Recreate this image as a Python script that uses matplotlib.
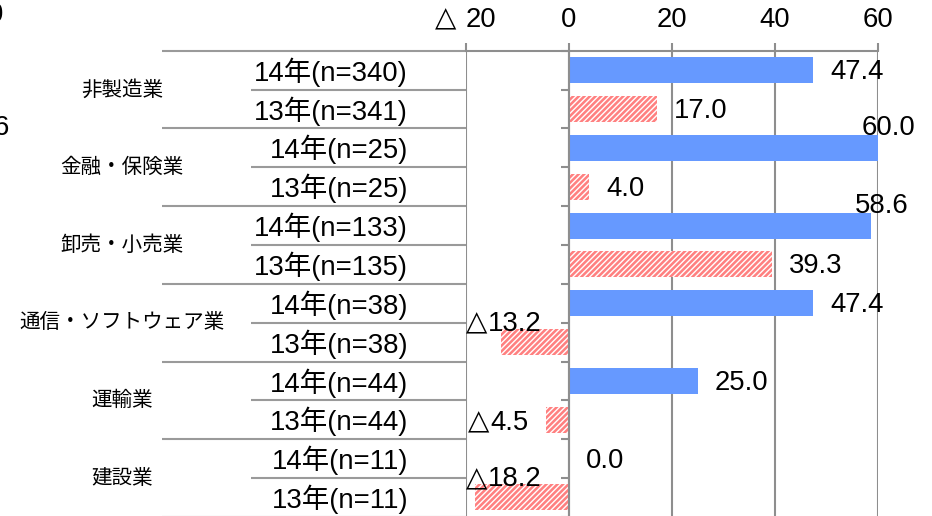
import matplotlib
matplotlib.use("Agg")
import matplotlib.pyplot as plt
import matplotlib.transforms as mtransforms
from matplotlib.offsetbox import TextArea, HPacker, AnnotationBbox
import numpy as np

plt.rcParams['font.family'] = ['Liberation Sans', 'Noto Sans CJK JP', 'DejaVu Sans']
plt.rcParams['hatch.linewidth'] = 1.0
plt.rcParams['hatch.color'] = 'white'

# Industries (top to bottom) and survey years per industry
industries = ["非製造業", "金融・保険業", "卸売・小売業", "通信・ソフトウェア業", "運輸業", "建設業"]
row_labels = [
    "14年(n=340)", "13年(n=341)",
    "14年(n=25)", "13年(n=25)",
    "14年(n=133)", "13年(n=135)",
    "14年(n=38)", "13年(n=38)",
    "14年(n=44)", "13年(n=44)",
    "14年(n=11)", "13年(n=11)",
]
values_14 = [47.4, 60.0, 58.6, 47.4, 25.0, 0.0]
values_13 = [17.0, 4.0, 39.3, -13.2, -4.5, -18.2]
x_ticks = [-20, 0, 20, 40, 60]
x_tick_labels = ["△ 20", "0", "20", "40", "60"]

W, H = 932, 516
fig = plt.figure(figsize=(W / 100, H / 100), dpi=100)

FS = 19.8          # numbers and row labels
TRI_FS = 20        # the triangle that marks negative numbers

top_px = 50.7
row_px = 38.85
n_rows = len(row_labels)
left_px, right_px = 465.7, 878.3
bottom_px = top_px + n_rows * row_px
ax = fig.add_axes([left_px / W, 1 - bottom_px / H, (right_px - left_px) / W, n_rows * row_px / H])

grid_col = "#8e8e8e"
table_col = "#9a9a9a"
blue = "#6699ff"
pink = "#ff8080"

values = []
for a, b in zip(values_14, values_13):
    values += [a, b]
values = np.array(values)
ypos = np.arange(n_rows) + 0.5

for i, (y, v) in enumerate(zip(ypos, values)):
    if i % 2 == 0:
        ax.barh(y, v, height=0.67, color=blue, linewidth=0, zorder=1)
    else:
        ax.barh(y, v, height=0.67, facecolor=pink, hatch="//////", edgecolor="white",
                linewidth=0, zorder=1)

ax.set_xlim(-20, 60)
ax.set_ylim(n_rows, 0)
ax.set_xticks(x_ticks)
ax.set_xticklabels(["" if t.startswith("△") else t for t in x_tick_labels], fontsize=FS)
ax.xaxis.tick_top()
ax.tick_params(axis="x", length=5.8, width=1.5, color=grid_col, pad=7)
ax.grid(axis="x", color=grid_col, linewidth=1.5)
ax.set_axisbelow(True)

for s in ["right", "bottom"]:
    ax.spines[s].set_visible(False)
ax.spines["top"].set_color(grid_col)
ax.spines["top"].set_linewidth(1.5)
ax.spines["left"].set_position(("data", 0))
ax.spines["left"].set_color(grid_col)
ax.spines["left"].set_linewidth(1.5)
ax.set_yticks(np.arange(n_rows + 1))
ax.tick_params(axis="y", length=5.8, width=1.5, color=grid_col, labelleft=False)


def label_box(text, sep=0.5):
    """Text with a leading △ drawn in a lighter glyph, as in Japanese negative-number notation."""
    if text.startswith("△"):
        rest = text[1:]
        gap = sep + (6 if rest.startswith(" ") else 0)
        return HPacker(children=[
            TextArea("△", textprops=dict(fontsize=TRI_FS, family="DejaVu Sans")),
            TextArea(rest.strip(), textprops=dict(fontsize=FS)),
        ], align="baseline", pad=0, sep=gap)
    return TextArea(text, textprops=dict(fontsize=FS))


# Tick label with the triangle
for t, lab in zip(x_ticks, x_tick_labels):
    if lab.startswith("△"):
        ab = AnnotationBbox(label_box(lab), (t, 0), xybox=(0, 12.8), xycoords="data",
                            boxcoords="offset points", box_alignment=(0.5, 0), frameon=False,
                            pad=0, annotation_clip=False)
        ax.add_artist(ab)

# Category table on the left
blend = mtransforms.blended_transform_factory(fig.transFigure, ax.transData)
for r in range(n_rows + 1):
    x0 = 162 if r % 2 == 0 else 251
    ax.plot([x0 / W, left_px / W], [r, r], transform=blend, color=table_col,
            linewidth=1.5, clip_on=False, solid_capstyle="butt")
for g, name in enumerate(industries):
    ax.text(122 / W, 2 * g + 1, name, transform=blend, ha="center", va="center",
            fontsize=14.8)
for y, lab in zip(ypos, row_labels):
    ax.text(408 / W, y + 0.05, lab, transform=blend, ha="right", va="center", fontsize=FS)


def fmt(v):
    return f"{v:.1f}" if v >= 0 else "△" + f"{abs(v):.1f}"


# Value labels: outside the bar end, moved above the bar end when they do not fit
boxes = []
for y, v in zip(ypos, values):
    side = 1 if v >= 0 else -1
    ab = AnnotationBbox(label_box(fmt(v)), (v, y + 0.05), xybox=(12.2 * side, 0),
                        xycoords="data", boxcoords="offset points",
                        box_alignment=(0 if side > 0 else 1, 0.5), frameon=False, pad=0,
                        annotation_clip=False)
    ax.add_artist(ab)
    boxes.append((ab, y, v, side))

fig.canvas.draw()
renderer = fig.canvas.get_renderer()
ax_box = ax.get_window_extent(renderer)
units_per_px = 80 / ax_box.width
for ab, y, v, side in boxes:
    bb = ab.get_window_extent(renderer)
    if bb.x1 > ax_box.x1 + 10 or bb.x0 < ax_box.x0 - 3:
        half_units = bb.width / 2 * units_per_px
        ab.remove()
        cx = v + 2 if side > 0 else max(v, -20 + half_units)
        ax.add_artist(AnnotationBbox(label_box(fmt(v)), (cx, y - 0.5), xycoords="data",
                                     box_alignment=(0.5, 0.5), frameon=False, pad=0,
                                     annotation_clip=False))

# Partially visible labels at the left edge
fig.text(3 / W, 1 - 15 / H, "0", ha="right", va="center", fontsize=FS)
fig.text(9 / W, 1 - 128 / H, "6", ha="right", va="center", fontsize=FS)

fig.savefig("out.png", dpi=100)
